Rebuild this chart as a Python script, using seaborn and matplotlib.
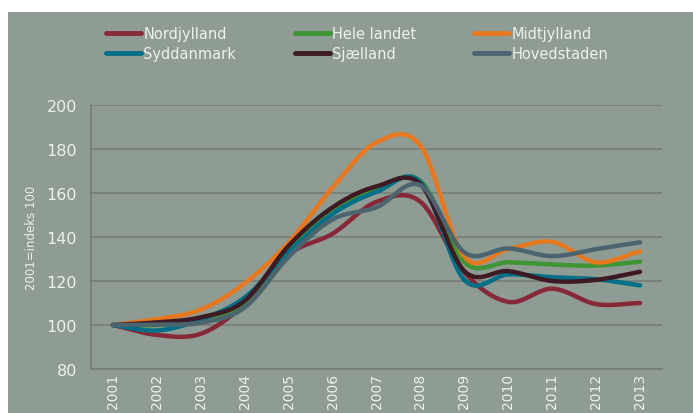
import numpy as np
import pandas as pd
import seaborn as sns
import matplotlib.pyplot as plt
from matplotlib.patches import Rectangle
from matplotlib.lines import Line2D

years = ["2001", "2002", "2003", "2004", "2005", "2006", "2007",
         "2008", "2009", "2010", "2011", "2012", "2013"]

nordjylland = [100, 95.5, 96, 109.5, 132, 141.5, 156, 156, 124, 110.5, 116.5, 109.5, 110]
hele_landet = [100, 100, 102, 110, 134, 152, 161.5, 165.5, 128.5, 128.5, 127.5, 127, 128.8]
midtjylland = [100, 102.7, 107, 119, 137.5, 162.5, 183, 181.5, 131, 134.5, 137.8, 128.5, 133.5]
syddanmark = [100, 97.5, 102.5, 112.5, 133, 150.5, 160.5, 165, 120.5, 123, 121.7, 120.8, 118]
sjaelland = [100, 101.2, 103.5, 111, 136, 153.5, 163, 164, 124.5, 124.5, 120, 120.5, 124.2]
hovedstaden = [100, 100.2, 101, 108, 131, 148, 153.5, 163.5, 133, 134.8, 131.3, 134.5, 137.6]

series = {
    "Nordjylland": nordjylland,
    "Hele landet": hele_landet,
    "Midtjylland": midtjylland,
    "Syddanmark": syddanmark,
    "Sjælland": sjaelland,
    "Hovedstaden": hovedstaden,
}
colors = {
    "Nordjylland": "#872838",
    "Hele landet": "#3f9434",
    "Midtjylland": "#e8781f",
    "Syddanmark": "#006f88",
    "Sjælland": "#3e1b24",
    "Hovedstaden": "#4c646e",
}
legend_order = ["Nordjylland", "Syddanmark", "Hele landet", "Sjælland",
                "Midtjylland", "Hovedstaden"]

bg = "#8e9c94"
txt = "#eef0ec"
grid = "#787d7a"


def smooth(vals, n=20):
    # catmull-rom style curve through the points, like excel's smoothed lines
    p = np.asarray(vals, dtype=float)
    m = np.zeros_like(p)
    m[1:-1] = (p[2:] - p[:-2]) / 2
    m[0] = p[1] - p[0]
    m[-1] = p[-1] - p[-2]
    xs, ys = [], []
    for i in range(len(p) - 1):
        t = np.linspace(0, 1, n, endpoint=False)
        h00 = 2 * t**3 - 3 * t**2 + 1
        h10 = t**3 - 2 * t**2 + t
        h01 = -2 * t**3 + 3 * t**2
        h11 = t**3 - t**2
        ys.extend(h00 * p[i] + h10 * m[i] + h01 * p[i + 1] + h11 * m[i + 1])
        xs.extend(i + t)
    xs.append(len(p) - 1)
    ys.append(p[-1])
    return xs, ys


rows = []
for name, vals in series.items():
    xs, ys = smooth(vals)
    for x, y in zip(xs, ys):
        rows.append({"x": x, "y": y, "region": name})
df = pd.DataFrame(rows)

sns.set_style("white")
plt.rcParams["font.family"] = ["DejaVu Sans"]

fig = plt.figure(figsize=(6.93, 4.14), dpi=100)
fig.patch.set_facecolor("white")
fig.patches.append(Rectangle((8 / 693, 0), 1 - 8 / 693, 401 / 414,
                             transform=fig.transFigure, facecolor=bg,
                             edgecolor="none", zorder=-10))

ax = fig.add_axes([91 / 693, 44 / 414, 571 / 693, 264 / 414])
ax.set_facecolor(bg)
ax.patch.set_alpha(0)

sns.lineplot(data=df, x="x", y="y", hue="region", palette=colors,
             estimator=None, sort=False, linewidth=3.2, legend=False, ax=ax)

ax.set_xlim(-0.5, 12.5)
ax.set_ylim(80, 200)
ax.set_yticks(range(80, 201, 20))
ax.yaxis.grid(True, color=grid, linewidth=1.3)
ax.set_axisbelow(True)

ax.set_xticks(range(len(years)))
ax.set_xticklabels(years, rotation=90, color=txt, fontsize=10)
ax.set_xticks(np.arange(-0.5, 12.6, 1), minor=True)
ax.tick_params(axis="x", which="major", length=0, pad=3)
ax.tick_params(axis="x", which="minor", length=5, color=grid, width=1.2)
ax.tick_params(axis="y", length=4, color=grid, width=1.2, labelcolor=txt,
               labelsize=11.5, pad=6)

for s in ["top", "right"]:
    ax.spines[s].set_visible(False)
for s in ["left", "bottom"]:
    ax.spines[s].set_color(grid)
    ax.spines[s].set_linewidth(1.3)

ax.set_xlabel("")
ax.set_ylabel("2001=indeks 100", color=txt, fontsize=8.5, labelpad=6)

handles = [Line2D([0], [0], color=colors[n], linewidth=3.5) for n in legend_order]
fig.legend(handles, legend_order, loc="upper left", ncol=3,
           bbox_to_anchor=(93 / 693, 1 - 14 / 414), frameon=False,
           fontsize=10.5, labelcolor=txt, handlelength=2.4,
           handletextpad=0.15, columnspacing=4.0, labelspacing=0.35)

fig.savefig("out.png", dpi=100, facecolor=fig.get_facecolor())
